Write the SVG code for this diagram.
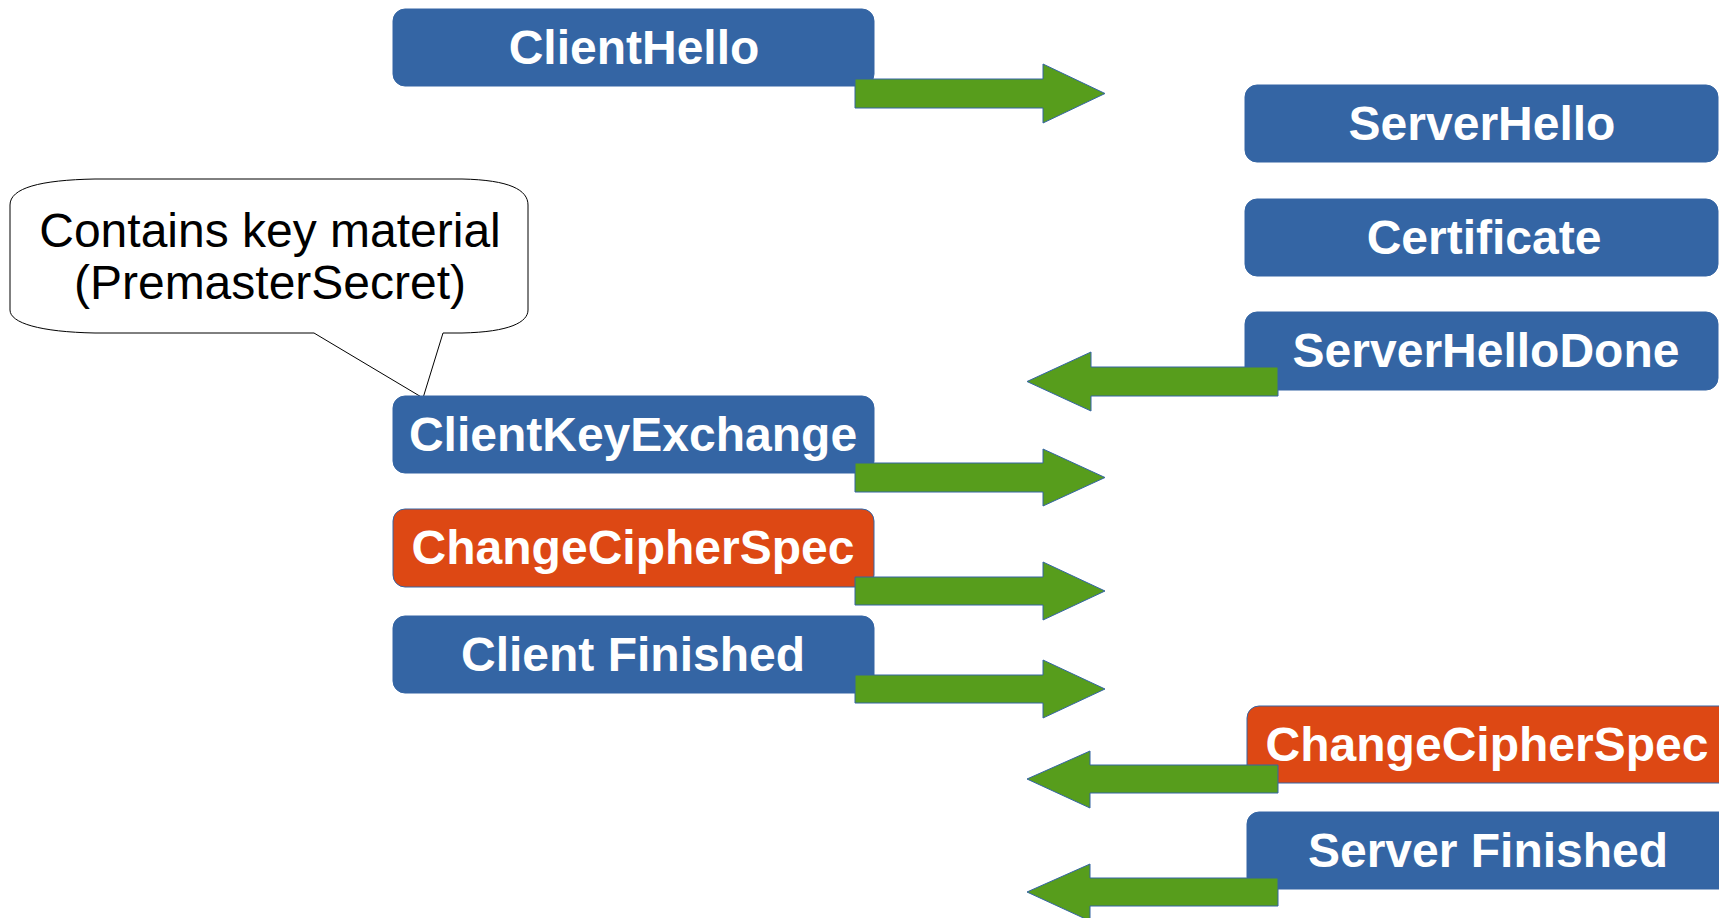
<svg xmlns="http://www.w3.org/2000/svg" width="1719" height="918" viewBox="0 0 1719 918">
<style>
.box{stroke:#3465a4;stroke-width:1}
.blue{fill:#3465a4}
.orange{fill:#dd4814}
.lbl{font-family:"Liberation Sans",Arial,sans-serif;font-weight:bold;font-size:48px;fill:#ffffff;text-anchor:middle}
.arrow{fill:#579d1c;stroke:#3465a4;stroke-width:1}
.callout{fill:#ffffff;stroke:#000000;stroke-width:1}
.ctext{font-family:"Liberation Sans",Arial,sans-serif;font-size:48px;fill:#000000;text-anchor:middle}
</style>
<rect width="1719" height="918" fill="#ffffff"/>
<g id="callout">
<path class="callout" d="M95,179 L462,179 C510,180 528,190 528,205 L528,310 C528,322 510,332 462,333 L443,333 L423,398 L314,333 L95,333 C40,332 10,323 10,310 L10,205 C10,188 40,180 95,179 Z"/>
<text class="ctext" x="270" y="247">Contains key material</text>
<text class="ctext" x="270" y="299">(PremasterSecret)</text>
</g>
<g id="clienthello"><rect class="box blue" x="393" y="9" width="481" height="77" rx="12"/><text class="lbl" x="634" y="64">ClientHello</text></g>
<g id="serverhello"><rect class="box blue" x="1245" y="85" width="473" height="77" rx="12"/><text class="lbl" x="1482" y="140">ServerHello</text></g>
<g id="certificate"><rect class="box blue" x="1245" y="199" width="473" height="77" rx="12"/><text class="lbl" x="1484" y="254">Certificate</text></g>
<g id="serverhellodone"><rect class="box blue" x="1245" y="312" width="473" height="78" rx="12"/><text class="lbl" x="1486" y="367">ServerHelloDone</text></g>
<g id="clientkeyexchange"><rect class="box blue" x="393" y="396" width="481" height="77" rx="12"/><text class="lbl" x="633" y="451">ClientKeyExchange</text></g>
<g id="changecipherspec-client"><rect class="box orange" x="393" y="509" width="481" height="78" rx="12"/><text class="lbl" x="633" y="564">ChangeCipherSpec</text></g>
<g id="clientfinished"><rect class="box blue" x="393" y="616" width="481" height="77" rx="12"/><text class="lbl" x="633" y="671">Client Finished</text></g>
<g id="changecipherspec-server"><rect class="box orange" x="1247" y="706" width="485" height="77" rx="12"/><text class="lbl" x="1487" y="761">ChangeCipherSpec</text></g>
<g id="serverfinished"><rect class="box blue" x="1247" y="812" width="485" height="77" rx="12"/><text class="lbl" x="1488" y="867">Server Finished</text></g>
<g id="connectors">
<path class="arrow" d="M855,79 L1043,79 L1043,64 L1105,93.5 L1043,123 L1043,108 L855,108 Z"/>
<path class="arrow" d="M1278,367 L1091,367 L1091,352 L1027,381.5 L1091,411 L1091,396 L1278,396 Z"/>
<path class="arrow" d="M855,463 L1043,463 L1043,449 L1105,477.5 L1043,506 L1043,492 L855,492 Z"/>
<path class="arrow" d="M855,577 L1043,577 L1043,562 L1105,591 L1043,620 L1043,605 L855,605 Z"/>
<path class="arrow" d="M855,675 L1043,675 L1043,660 L1105,689 L1043,718 L1043,703 L855,703 Z"/>
<path class="arrow" d="M1278,765 L1090,765 L1090,751 L1027,779 L1090,808 L1090,793 L1278,793 Z"/>
<path class="arrow" d="M1278,878 L1090,878 L1090,864 L1027,892 L1090,921 L1090,906 L1278,906 Z"/>
</g>
</svg>
